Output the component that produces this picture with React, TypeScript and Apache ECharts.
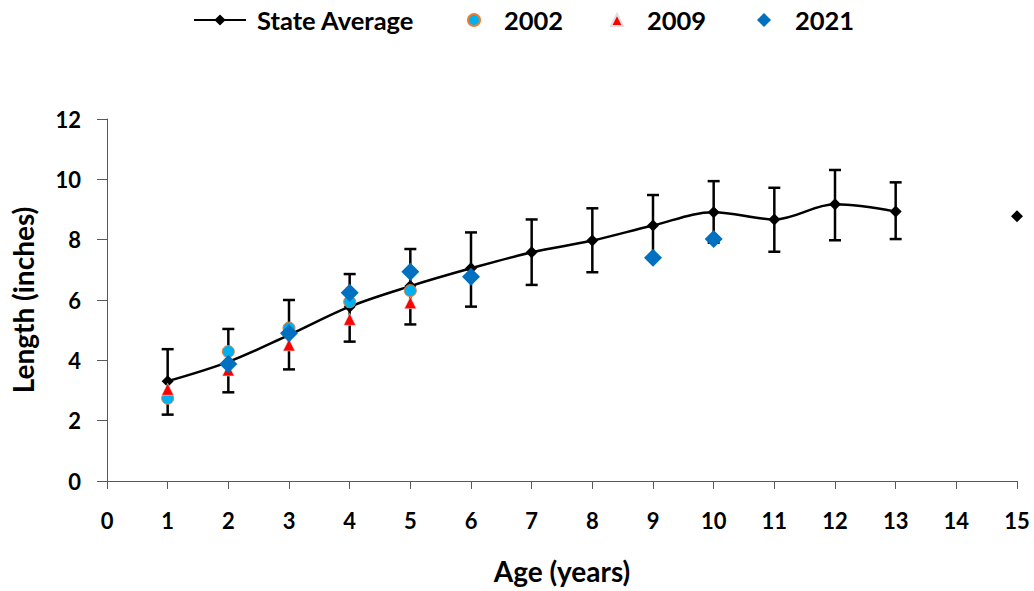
import React, { useEffect, useRef } from "react";
import * as echarts from "echarts";

const ages = [1, 2, 3, 4, 5, 6, 7, 8, 9, 10, 11, 12, 13, 14, 15];
const stateAverage: (number | null)[] = [3.31, 3.95, 4.84, 5.78, 6.46, 7.05, 7.58, 7.97, 8.47, 8.91, 8.67, 9.17, 8.93, null, 8.78];
const errAges = [1, 2, 3, 4, 5, 6, 7, 8, 9, 10, 11, 12, 13];
const errLow = [2.2, 2.94, 3.7, 4.62, 5.19, 5.78, 6.5, 6.92, 7.45, 7.9, 7.6, 7.98, 8.02];
const errHigh = [4.37, 5.04, 6.0, 6.86, 7.69, 8.24, 8.67, 9.04, 9.48, 9.94, 9.72, 10.31, 9.9];
const ages2002 = [1, 2, 3, 4, 5];
const len2002 = [2.74, 4.29, 5.07, 5.94, 6.31];
const ages2009 = [1, 2, 3, 4, 5];
const len2009 = [3.04, 3.68, 4.51, 5.36, 5.91];
const ages2021 = [2, 3, 4, 5, 6, 9, 10];
const len2021 = [3.88, 4.9, 6.24, 6.94, 6.77, 7.4, 8.02];
const xTicks = { min: 0, max: 15, interval: 1 };
const yTicks = { min: 0, max: 12, interval: 2 };

const FONT = "Lato";

export default function App() {
  const ref = useRef<HTMLDivElement>(null);
  useEffect(() => {
    if (!ref.current) return;
    const chart = echarts.init(ref.current, undefined, { renderer: "svg" });
    const axisLabel = { color: "#000", fontFamily: FONT, fontWeight: "bold" as const, fontSize: 22 };
    const nameStyle = { color: "#000", fontFamily: FONT, fontWeight: "bold" as const, fontSize: 28 };
    const legendText = (padLeft: number) => ({
      color: "#000",
      fontFamily: FONT,
      fontWeight: "bold" as const,
      fontSize: 25.5,
      padding: [0, 0, 0, padLeft],
    });
    const scatterLegend = (name: string, icon: string, left: number, size: number) => ({
      top: 2,
      left,
      itemWidth: size,
      itemHeight: size,
      data: [{ name, icon }],
      textStyle: legendText(19),
    });
    chart.setOption({
      animation: false,
      backgroundColor: "#fff",
      legend: [
        {
          top: 2,
          left: 188,
          itemWidth: 52,
          itemHeight: 14,
          data: ["State Average"],
          textStyle: legendText(6),
        },
        scatterLegend("2002", "circle", 462, 12),
        scatterLegend("2009", "triangle", 605, 12),
        scatterLegend("2021", "diamond", 752, 14),
      ],
      grid: { left: 107, right: 17, top: 119, bottom: 110, containLabel: false },
      xAxis: {
        type: "value",
        min: xTicks.min,
        max: xTicks.max,
        interval: xTicks.interval,
        name: "Age (years)",
        nameLocation: "middle",
        nameGap: 76,
        nameTextStyle: nameStyle,
        axisLine: { show: true, onZero: false, lineStyle: { color: "#595959", width: 1 } },
        axisTick: { show: true, length: 8, lineStyle: { color: "#595959" } },
        axisLabel: { ...axisLabel, margin: 28 },
        splitLine: { show: false },
      },
      yAxis: {
        type: "value",
        min: yTicks.min,
        max: yTicks.max,
        interval: yTicks.interval,
        name: "Length (inches)",
        nameLocation: "middle",
        nameGap: 70,
        nameRotate: 90,
        nameTextStyle: nameStyle,
        axisLine: { show: true, lineStyle: { color: "#595959", width: 1 } },
        axisTick: { show: true, length: 10, lineStyle: { color: "#595959" } },
        axisLabel: { ...axisLabel, margin: 26 },
        splitLine: { show: false },
      },
      series: [
        {
          name: "State Average",
          type: "line",
          data: ages.map((a, i) => [a, stateAverage[i] === null ? "-" : stateAverage[i]]),
          smooth: 0.35,
          connectNulls: false,
          symbol: "diamond",
          symbolSize: 12,
          showAllSymbol: true,
          lineStyle: { color: "#000", width: 2.5 },
          itemStyle: { color: "#000", opacity: 1 },
          z: 2,
        },
        {
          name: "errors",
          type: "custom",
          data: errAges.map((a, i) => [a, errLow[i], errHigh[i]]),
          encode: { x: 0, y: [1, 2] },
          z: 3,
          renderItem: (params: any, api: any) => {
            const x = api.value(0);
            const lo = api.coord([x, api.value(1)]);
            const hi = api.coord([x, api.value(2)]);
            const hw = 6;
            const st = { stroke: "#000", lineWidth: 2.5 };
            return {
              type: "group",
              children: [
                { type: "line", shape: { x1: lo[0], y1: lo[1], x2: hi[0], y2: hi[1] }, style: st },
                { type: "line", shape: { x1: lo[0] - hw, y1: lo[1], x2: lo[0] + hw, y2: lo[1] }, style: st },
                { type: "line", shape: { x1: hi[0] - hw, y1: hi[1], x2: hi[0] + hw, y2: hi[1] }, style: st },
              ],
            };
          },
        },
        {
          name: "2002",
          type: "scatter",
          data: ages2002.map((a, i) => [a, len2002[i]]),
          symbol: "circle",
          symbolSize: 12,
          itemStyle: { color: "#00B0F0", borderColor: "#ED7D31", borderWidth: 1, opacity: 1 },
          z: 4,
        },
        {
          name: "2009",
          type: "scatter",
          data: ages2009.map((a, i) => [a, len2009[i]]),
          symbol: "triangle",
          symbolSize: 12,
          itemStyle: { color: "#FF0000", borderColor: "#e0e0e0", borderWidth: 0.6, opacity: 1 },
          z: 5,
        },
        {
          name: "2021",
          type: "scatter",
          data: ages2021.map((a, i) => [a, len2021[i]]),
          symbol: "diamond",
          symbolSize: 18,
          itemStyle: { color: "#0070C0", opacity: 1 },
          z: 6,
        },
      ],
    });
    return () => chart.dispose();
  }, []);
  return <div ref={ref} style={{ position: "fixed", left: 0, top: 0, width: 1034, height: 591 }} />;
}
